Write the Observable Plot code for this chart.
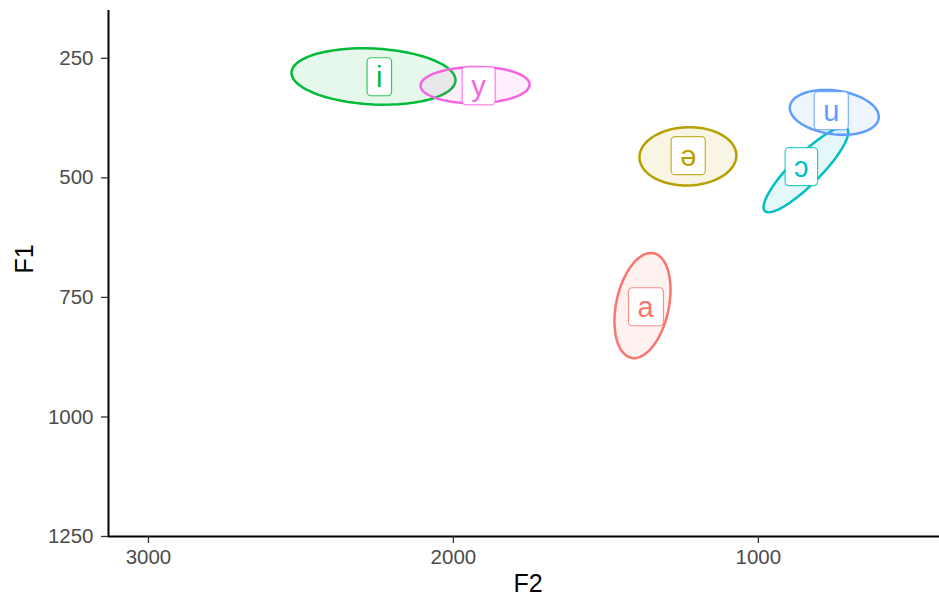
<!DOCTYPE html>
<html>
<head>
<meta charset="utf-8">
<script src="https://cdn.jsdelivr.net/npm/d3@7"></script>
<script src="https://cdn.jsdelivr.net/npm/@observablehq/plot@0.6"></script>
<style>
  body { margin: 0; background: #fff; }
  svg { display: block; }
</style>
</head>
<body>
<script>
// ---- data ----
const vowels   = ["a", "ə", "i", "ɔ", "u", "y"];
const palette  = ["#F8766D", "#B79F00", "#00BA38", "#00BFC4", "#619CFF", "#F564E3"];
// label positions (vowel means)
const meanF2   = [1370, 1230, 2243, 859, 761, 1918];
const meanF1   = [771, 455, 290, 478, 361, 309];
// ellipse parameters (centre, half-extent along F2 and F1, correlation)
const ellF2    = [1380, 1231, 2262, 844, 751, 1929];
const ellF1    = [767, 455, 288, 483, 363, 306];
const spreadF2 = [92, 159, 269, 139, 146, 179];
const spreadF1 = [110, 61, 59, 89, 47, 38];
const corr     = [0.3, 0.03, -0.13, 0.88, -0.2, 0.03];
const xTicks   = [3000, 2000, 1000];
const yTicks   = [250, 500, 750, 1000, 1250];
const xDomain  = [3131, 406];
const yDomain  = [150, 1250];

// ellipse outlines from each vowel's parameters
const steps = d3.range(0, 61).map(k => (k / 60) * 2 * Math.PI);
const ellipsePts = vowels.flatMap((v, i) => steps.map(t => ({
  vowel: v,
  F2: ellF2[i] + spreadF2[i] * Math.cos(t),
  F1: ellF1[i] + spreadF1[i] * (corr[i] * Math.cos(t) + Math.sqrt(1 - corr[i] * corr[i]) * Math.sin(t))
})));
const labels = vowels.map((v, i) => ({vowel: v, F2: meanF2[i], F1: meanF1[i]}));

const chart = Plot.plot({
  width: 939,
  height: 606,
  marginLeft: 108,
  marginRight: 0,
  marginTop: 10,
  marginBottom: 70,
  style: {fontFamily: "'Liberation Sans', Arial, sans-serif", background: "#fff"},
  x: {domain: xDomain},
  y: {domain: yDomain, reverse: true},
  color: {domain: vowels, range: palette},
  marks: [
    ...vowels.map((v, i) => Plot.line(ellipsePts.filter(d => d.vowel === v), {
      x: "F2", y: "F1", stroke: palette[i], fill: palette[i], fillOpacity: 0.1, strokeWidth: 2.5
    })),
    Plot.ruleX([xDomain[0]], {stroke: "#000", strokeWidth: 2}),
    Plot.ruleY([yDomain[1]], {stroke: "#000", strokeWidth: 2}),
    Plot.axisX({ticks: xTicks, tickFormat: d3.format("d"), tickSize: 7, tickPadding: 6,
      fontSize: 20.5, label: null, color: "#4D4D4D", stroke: "#333", strokeWidth: 1.3}),
    Plot.axisY({ticks: yTicks, tickFormat: d3.format("d"), tickSize: 7, tickPadding: 8,
      fontSize: 20.5, label: null, color: "#4D4D4D", stroke: "#333", strokeWidth: 1.3}),
    Plot.text(["F2"], {frameAnchor: "bottom", dx: 4, dy: 55, fontSize: 25, fill: "#000"}),
    Plot.text(["F1"], {frameAnchor: "left", dx: -84, rotate: -90, fontSize: 25, fill: "#000"}),
    Plot.text(labels, {x: "F2", y: "F1", text: "vowel", fill: "vowel", fontSize: 29})
  ]
});
document.body.append(chart);

// draw rounded label boxes behind each vowel label
const svgNS = "http://www.w3.org/2000/svg";
chart.querySelectorAll("text").forEach(t => {
  const idx = vowels.indexOf(t.textContent.trim());
  if (idx < 0) return;
  const bb = t.getBBox();
  const padX = 9, h = 38;
  const r = document.createElementNS(svgNS, "rect");
  r.setAttribute("x", bb.x - padX);
  r.setAttribute("y", bb.y + bb.height / 2 - h / 2);
  r.setAttribute("width", bb.width + 2 * padX);
  r.setAttribute("height", h);
  r.setAttribute("rx", 4);
  r.setAttribute("fill", "#fff");
  r.setAttribute("stroke", palette[idx]);
  r.setAttribute("stroke-opacity", 0.8);
  r.setAttribute("stroke-width", 1.2);
  if (t.getAttribute("transform")) r.setAttribute("transform", t.getAttribute("transform"));
  t.parentNode.insertBefore(r, t);
});
</script>
</body>
</html>
